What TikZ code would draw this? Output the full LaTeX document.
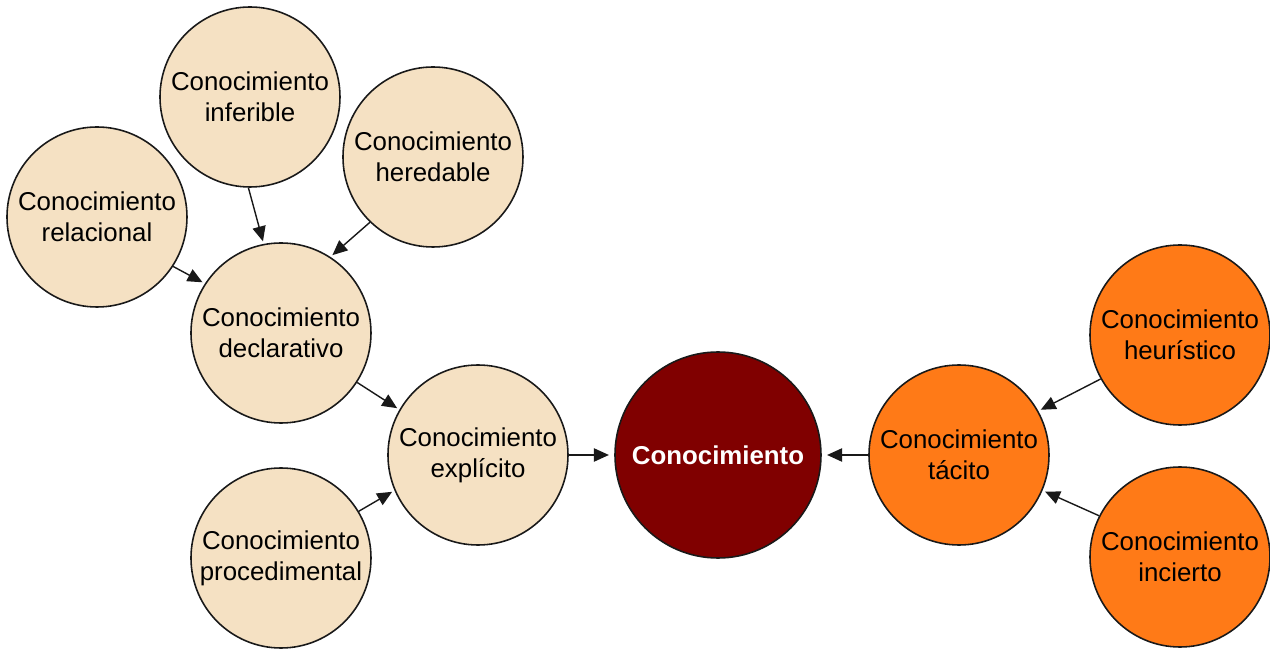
\documentclass[tikz,border=0pt]{standalone}
\usepackage{fontspec}
\setmainfont{Liberation Sans}
\usepackage{tikz}
\usetikzlibrary{positioning, arrows.meta}
\definecolor{beige}{HTML}{F5E1C3}
\definecolor{naranja}{HTML}{FF7A17}
\definecolor{granate}{HTML}{800000}

\begin{document}
\begin{tikzpicture}[>={Triangle[length=8.5pt,width=7.5pt]}, line join=bevel, on grid,
    concept/.style={circle, draw=black!90, line width=0.9pt, minimum size=3.6cm,
      inner sep=0pt, align=center, font=\fontsize{14.7}{17.6}\selectfont},
    claro/.style={concept, fill=beige},
    tacito/.style={concept, fill=naranja},
    flecha/.style={->, line width=0.8pt, black!90, shorten >=1.5pt}]
             \useasboundingbox (-14.36,-3.92) rectangle (11.04,9.1);
             %
             \node[concept, fill=granate, text=white, minimum size=4.12cm,
               font=\bfseries\fontsize{14.7}{17.6}\selectfont] (con) {Conocimiento};
             \node[claro, left=4.8cm of con] (expl) {Conocimiento\\expl\'{\i}cito};
             \node[claro, above left=2.44cm and 3.94cm of expl] (decl) {Conocimiento\\declarativo};
             \node[claro, below left=2.06cm and 3.94cm of expl] (proc) {Conocimiento\\procedimental};
             \node[claro, above left=2.32cm and 3.68cm of decl] (rel) {Conocimiento\\relacional};
             \node[claro, above left=4.72cm and 0.62cm of decl] (inf) {Conocimiento\\inferible};
             \node[claro, above right=3.52cm and 3.04cm of decl] (her) {Conocimiento\\heredable};
             %
             \node[tacito, right=4.82cm of con] (tac) {Conocimiento\\t\'acito};
             \node[tacito, above right=2.4cm and 4.42cm of tac] (heu) {Conocimiento\\heur\'{\i}stico};
             \node[tacito, below right=2.04cm and 4.42cm of tac] (inc) {Conocimiento\\incierto};
             %
             \path[flecha] (inf.269) edge[] (decl.101);
             \path[flecha] (her.226) edge[] (decl.57);
             \path[flecha] (rel.327) edge[] (decl.147);
             \path[flecha] (decl.327) edge[] (expl.150);
             \path[flecha] (proc.31) edge[] (expl.203);
             \path[flecha] (expl.east) edge[shorten >=3pt] (con.west);
             \path[flecha] (tac.west) edge[shorten >=3pt] (con.east);
             \path[flecha] (heu.209) edge[] (tac.29);
             \path[flecha] (inc.153) edge[] (tac.337);
\end{tikzpicture}
\end{document}
